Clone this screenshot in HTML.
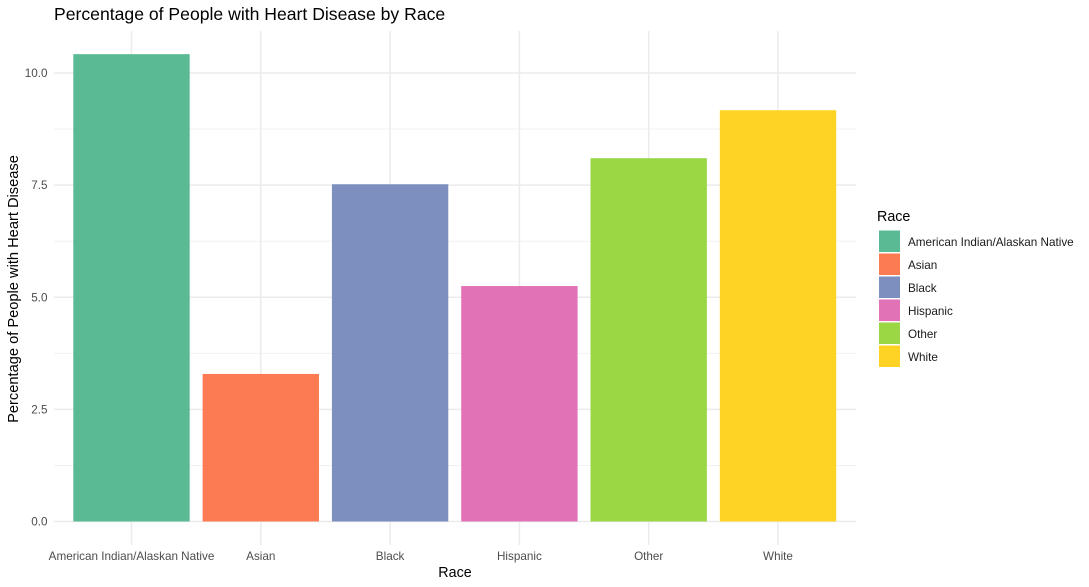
<!DOCTYPE html>
<html>
<head>
<meta charset="utf-8">
<style>
html,body{margin:0;padding:0;background:#fff;}
svg{display:block;font-family:"Liberation Sans",Arial,sans-serif;}
</style>
</head>
<body>
<svg id="chart" width="1089" height="587" viewBox="0 0 1089 587" xmlns="http://www.w3.org/2000/svg">
  <text x="54" y="20" font-size="17.6" fill="#000">Percentage of People with Heart Disease by Race</text>
  <g id="grid"></g>
  <g id="bars"></g>
  <g id="ylabels"></g>
  <g id="xlabels"></g>
  <text x="455" y="577" font-size="14.3" text-anchor="middle" fill="#000">Race</text>
  <text transform="translate(18,289) rotate(-90)" font-size="14.65" text-anchor="middle" fill="#000">Percentage of People with Heart Disease</text>
  <g id="legend">
    <text x="877" y="221" font-size="14.3" fill="#000">Race</text>
  </g>
</svg>
<script>
const categories = ["American Indian/Alaskan Native", "Asian", "Black", "Hispanic", "Other", "White"];
const values = [10.42, 3.29, 7.52, 5.25, 8.1, 9.17];
const colors = ["#59BA94", "#FC7B52", "#7D8FBF", "#E172B6", "#9BD645", "#FFD324"];
const majorTicks = [0, 2.5, 5, 7.5, 10];
const majorTickLabels = ["0.0", "2.5", "5.0", "7.5", "10.0"];
const minorTicks = [1.25, 3.75, 6.25, 8.75];

const NS = "http://www.w3.org/2000/svg";
const panel = { left: 54, right: 856, top: 31, bottom: 545 };
const xStep = 129.3;
const xStart = 131.5;
const yZero = 521.5;
const yUnit = 44.85;
const barWidth = xStep * 0.9;

function xScale(i) { return xStart + i * xStep; }
function yScale(v) { return yZero - v * yUnit; }

function make(tag, attrs, parent, text) {
  const el = document.createElementNS(NS, tag);
  for (const k in attrs) el.setAttribute(k, attrs[k]);
  if (text !== undefined) el.textContent = text;
  parent.appendChild(el);
  return el;
}

const grid = document.getElementById("grid");
const bars = document.getElementById("bars");
const ylabels = document.getElementById("ylabels");
const xlabels = document.getElementById("xlabels");
const legend = document.getElementById("legend");

minorTicks.forEach(function (t) {
  const l = make("line", { x1: panel.left, x2: panel.right, y1: yScale(t), y2: yScale(t), stroke: "#EFEFEF", "stroke-width": 0.8 }, grid);
  
  
});
majorTicks.forEach(function (t, i) {
  const l = make("line", { x1: panel.left, x2: panel.right, y1: yScale(t), y2: yScale(t), stroke: "#EBEBEB", "stroke-width": 1.5 }, grid);
  
  
  const txt = make("text", { x: 47.5, y: yScale(t) + 4, "font-size": 11.7, "text-anchor": "end", fill: "#4D4D4D" }, ylabels, majorTickLabels[i]);
  
  
});
categories.forEach(function (c, i) {
  const l = make("line", { x1: xScale(i), x2: xScale(i), y1: panel.top, y2: panel.bottom, stroke: "#EBEBEB", "stroke-width": 1.5 }, grid);
  
  

  const r = make("rect", { x: xScale(i) - barWidth / 2, y: yScale(values[i]), width: barWidth, height: yZero - yScale(values[i]), fill: colors[i] }, bars);
  
  

  const t = make("text", { x: xScale(i), y: 560, "font-size": 11.7, "text-anchor": "middle", fill: "#4D4D4D" }, xlabels, c);
  
  

  const s = make("rect", { x: 879, y: 230 + i * 23 + 0.5, width: 21, height: 21.5, fill: colors[i] }, legend);
  
  

  const lt = make("text", { x: 908, y: 246 + i * 23, "font-size": 11.7, fill: "#1a1a1a" }, legend, c);
  
  
});
</script>
</body>
</html>
